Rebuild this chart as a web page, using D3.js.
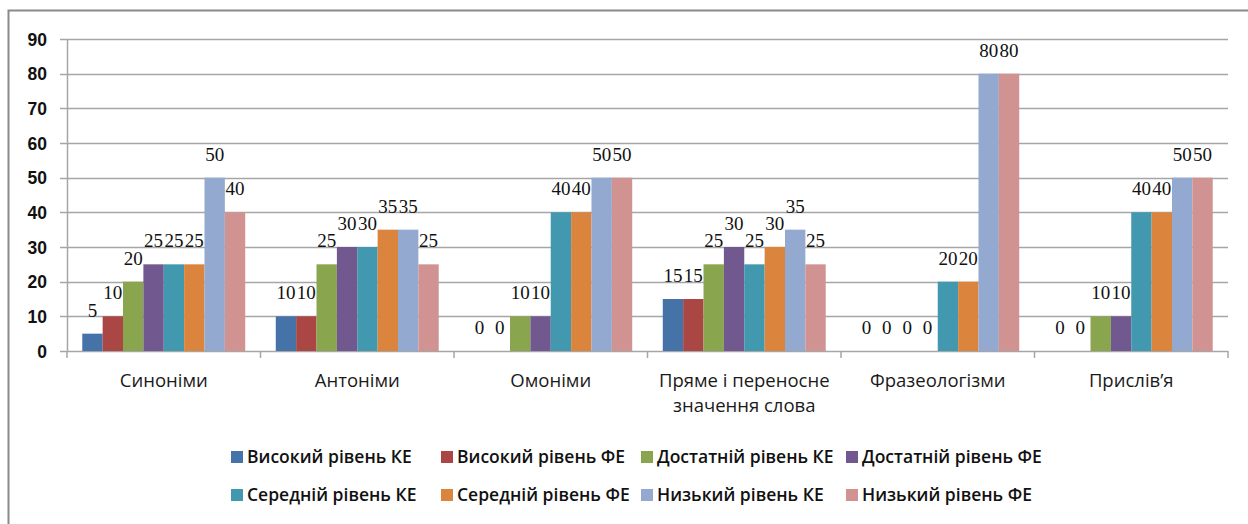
<!DOCTYPE html>
<html>
<head>
<meta charset="utf-8">
<script src="https://cdn.jsdelivr.net/npm/d3@7"></script>
<style>
  body { margin: 0; background: #fff; }
  svg { display: block; }
</style>
</head>
<body>
<svg id="chart" width="1248" height="524"></svg>
<script>
// categories and series
var categories = ['Синоніми', 'Антоніми', 'Омоніми', 'Пряме і переносне|значення слова', 'Фразеологізми', 'Прислів’я'];
var seriesNames = ['Високий рівень КЕ', 'Високий рівень ФЕ', 'Достатній рівень КЕ', 'Достатній рівень ФЕ',
                   'Середній рівень КЕ', 'Середній рівень ФЕ', 'Низький рівень КЕ', 'Низький рівень ФЕ'];
var highKE  = [5, 10, 0, 15, 0, 0];
var highFE  = [10, 10, 0, 15, 0, 0];
var suffKE  = [20, 25, 10, 25, 0, 10];
var suffFE  = [25, 30, 10, 30, 0, 10];
var midKE   = [25, 30, 40, 25, 20, 40];
var midFE   = [25, 35, 40, 30, 20, 40];
var lowKE   = [50, 35, 50, 35, 80, 50];
var lowFE   = [40, 25, 50, 25, 80, 50];
var yTicks = [0, 10, 20, 30, 40, 50, 60, 70, 80, 90];

var colors = ['#4572A7', '#AA4643', '#89A54E', '#71588F', '#4198AF', '#DB843D', '#93A9CF', '#D19392'];
var allSeries = [highKE, highFE, suffKE, suffFE, midKE, midFE, lowKE, lowFE];

var svg = d3.select('#chart');

// outer frame (runs off the right and bottom edges)
svg.append('rect')
    .attr('x', 8.5).attr('y', 10.5)
    .attr('width', 1260).attr('height', 540)
    .attr('fill', 'none')
    .attr('stroke', '#8a8a8a')
    .attr('stroke-width', 2);

var plotLeft = 67, plotRight = 1228, plotTop = 39, plotBottom = 351;

var x0 = d3.scaleBand().domain(d3.range(categories.length)).range([plotLeft, plotRight]).paddingInner(0).paddingOuter(0);
var x1 = d3.scaleBand().domain(d3.range(seriesNames.length)).range([0, x0.bandwidth()]).paddingInner(0).paddingOuter(0.75);
var y = d3.scaleLinear().domain([0, 90]).range([plotBottom, plotTop]);

// gridlines + y labels
var grid = svg.append('g');
grid.selectAll('line')
    .data(yTicks)
    .enter().append('line')
    .attr('x1', plotLeft - 7).attr('x2', plotRight)
    .attr('y1', function (d) { return Math.round(y(d)) + 0.5; })
    .attr('y2', function (d) { return Math.round(y(d)) + 0.5; })
    .attr('stroke', '#a6a6a6')
    .attr('stroke-width', 1.5);

grid.selectAll('text')
    .data(yTicks)
    .enter().append('text')
    .attr('x', 47)
    .attr('y', function (d) { return y(d) + 6.5; })
    .attr('text-anchor', 'end')
    .attr('font-family', 'Liberation Sans, Arial, sans-serif')
    .attr('font-weight', 'bold')
    .attr('font-size', 17.5)
    .attr('fill', '#111')
    .text(function (d) { return d; });

// y axis line
svg.append('line')
    .attr('x1', plotLeft + 0.5).attr('x2', plotLeft + 0.5)
    .attr('y1', plotTop).attr('y2', plotBottom)
    .attr('stroke', '#a6a6a6').attr('stroke-width', 1.5);

// category tick marks
svg.append('g').selectAll('line')
    .data(d3.range(categories.length + 1))
    .enter().append('line')
    .attr('x1', function (i) { return plotLeft + i * x0.bandwidth(); })
    .attr('x2', function (i) { return plotLeft + i * x0.bandwidth(); })
    .attr('y1', plotBottom).attr('y2', plotBottom + 7)
    .attr('stroke', '#a6a6a6').attr('stroke-width', 1.5);

// bars
var groups = svg.append('g').selectAll('g')
    .data(categories)
    .enter().append('g')
    .attr('transform', function (d, i) { return 'translate(' + x0(i) + ',0)'; });

groups.each(function (c, ci) {
    var g = d3.select(this);
    allSeries.forEach(function (s, si) {
        var v = s[ci];
        if (v > 0) {
            g.append('rect')
                .attr('x', x1(si))
                .attr('y', y(v))
                .attr('width', x1.bandwidth())
                .attr('height', y(0) - y(v))
                .attr('fill', colors[si]);
        }
        g.append('text')
            .attr('x', x1(si) + x1.bandwidth() / 2)
            .attr('y', y(v) - 17)
            .attr('text-anchor', 'middle')
            .attr('font-family', 'Liberation Serif, Times New Roman, serif')
            .attr('font-size', 19)
            .attr('fill', '#111')
            .text(v);
    });
});

// category labels
svg.append('g').selectAll('text')
    .data(categories)
    .enter().append('text')
    .attr('x', function (d, i) { return x0(i) + x0.bandwidth() / 2; })
    .attr('y', 387)
    .attr('text-anchor', 'middle')
    .attr('font-family', 'Open Sans, sans-serif')
    .attr('font-size', 18.5)
    .attr('fill', '#1a1a1a')
    .each(function (d) {
        var t = d3.select(this);
        d.split('|').forEach(function (line, k) {
            t.append('tspan')
                .attr('x', t.attr('x'))
                .attr('dy', k === 0 ? 0 : 25)
                .text(line);
        });
    });

// legend, two rows of four
var legendX = [231, 441, 641, 846];
var legendY = [457, 495];
var legend = svg.append('g').selectAll('g')
    .data(seriesNames)
    .enter().append('g')
    .attr('transform', function (d, i) {
        return 'translate(' + legendX[i % 4] + ',' + legendY[Math.floor(i / 4)] + ')';
    });

legend.append('rect')
    .attr('x', 0).attr('y', -6)
    .attr('width', 12).attr('height', 12)
    .attr('fill', function (d, i) { return colors[i]; });

legend.append('text')
    .attr('x', 16)
    .attr('y', 6)
    .attr('font-family', 'Open Sans, sans-serif')
    .attr('font-weight', 600)
    .attr('font-size', 17.5)
    .attr('fill', '#111')
    .text(function (d) { return d; });
</script>
</body>
</html>
